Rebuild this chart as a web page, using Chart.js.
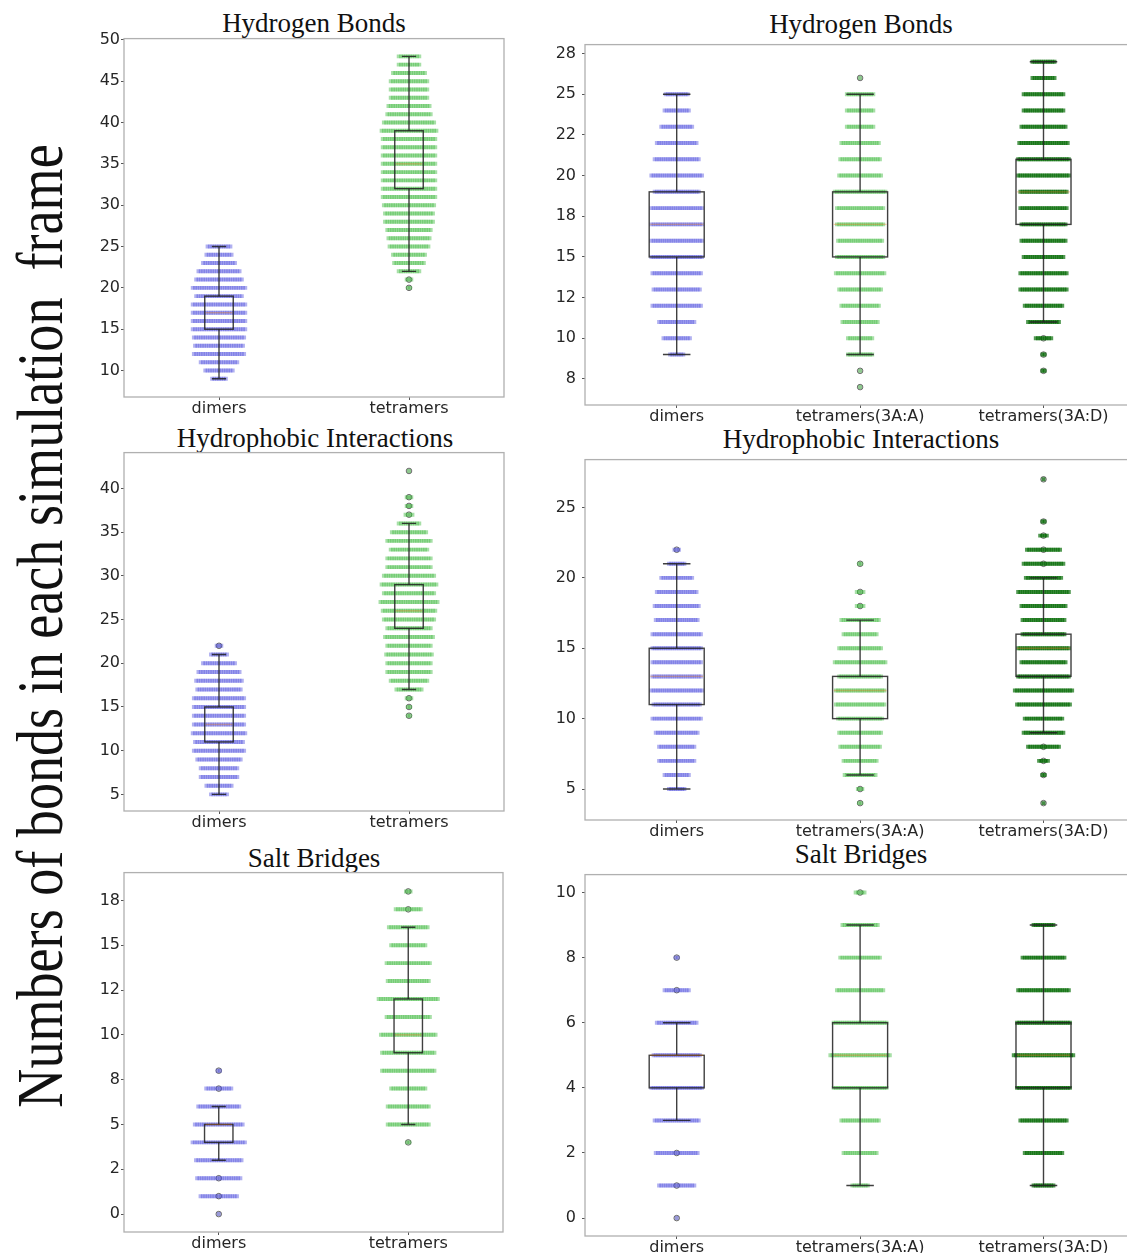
<!DOCTYPE html>
<html>
<head>
<meta charset="utf-8">
<script src="https://cdn.jsdelivr.net/npm/chart.js@4.4.1/dist/chart.umd.min.js"></script>
<style>
  body { margin: 0; width: 1127px; height: 1253px; overflow: hidden; background: #fff; position: relative; }
  canvas { position: absolute; }
  .ttl { position: absolute; font-family: "Liberation Serif", "Times New Roman", serif; font-size: 27px; line-height: 27px;
         color: #111; white-space: nowrap; transform: translateX(-50%); }
  #ylab { position: absolute; left: 40px; top: 626px; font-family: "Liberation Serif", "Times New Roman", serif;
          font-size: 66px; line-height: 66px; color: #111; white-space: pre;
          transform: translate(-50%, -50%) rotate(-90deg) scaleX(0.82); }
</style>
</head>
<body>
<div id="ylab">Numbers of bonds in each simulation  frame</div>

<div class="ttl" style="left:314px;top:10px">Hydrogen Bonds</div>
<div class="ttl" style="left:861px;top:11px">Hydrogen Bonds</div>
<div class="ttl" style="left:315px;top:425px">Hydrophobic Interactions</div>
<div class="ttl" style="left:861px;top:426px">Hydrophobic Interactions</div>
<div class="ttl" style="left:314px;top:845px">Salt Bridges</div>
<div class="ttl" style="left:861px;top:841px">Salt Bridges</div>

<canvas id="c1" width="450" height="409" style="left:64px;top:28px"></canvas>
<canvas id="c2" width="614" height="416" style="left:525px;top:29px"></canvas>
<canvas id="c3" width="450" height="409" style="left:64px;top:442px"></canvas>
<canvas id="c4" width="614" height="416" style="left:525px;top:444px"></canvas>
<canvas id="c5" width="449" height="410" style="left:64px;top:862px"></canvas>
<canvas id="c6" width="614" height="417" style="left:525px;top:859px"></canvas>

<script>
// categories
const catsLeft = ['dimers', 'tetramers'];
const catsRight = ['dimers', 'tetramers(3A:A)', 'tetramers(3A:D)'];

// frames per integer bond count (lowest value first), estimated from strip widths
// hydrogen bonds
const dimHbFrom = 9;
const dimHb = [7, 13, 17, 23, 22, 23, 24, 24, 24, 24, 21, 24, 21, 19, 15, 12, 11];
const tetHbFrom = 20;
const tetHb = [2, 3, 10, 14, 15, 18, 19, 20, 22, 22, 23, 24, 24, 24, 24, 24, 24, 24, 24, 25, 23, 20, 19, 17, 17, 17, 15, 10, 10];
const hbAFrom = 7;
const hbA = [1, 1, 12, 12, 17, 18, 20, 23, 22, 21, 22, 22, 24, 20, 19, 18, 13, 13, 13, 1];
const hbDFrom = 8;
const hbD = [2, 2, 8, 15, 18, 22, 22, 19, 21, 21, 22, 22, 24, 24, 23, 21, 19, 19, 11, 11];

// hydrophobic interactions
const dimHiFrom = 5;
const dimHi = [8, 12, 17, 17, 20, 23, 22, 24, 23, 23, 23, 23, 20, 21, 19, 15, 8, 3];
const tetHiFrom = 14;
const tetHi = [2, 2, 3, 12, 17, 20, 20, 21, 20, 22, 20, 23, 24, 26, 23, 25, 23, 20, 20, 17, 20, 16, 10, 4, 3, 3, 0, 0, 1];
const hiAFrom = 4;
const hiA = [2, 3, 15, 16, 19, 20, 21, 23, 23, 20, 24, 20, 16, 18, 4, 4, 0, 2];
const hiDFrom = 4;
const hiD = [1, 0, 2, 5, 15, 19, 18, 25, 27, 24, 21, 24, 20, 20, 21, 24, 17, 19, 16, 4, 2, 0, 0, 1];

// salt bridges
const dimSbFrom = 0;
const dimSb = [1, 17, 20, 21, 24, 22, 19, 12, 2];
const tetSbFrom = 4;
const tetSb = [2, 19, 19, 16, 24, 24, 25, 20, 27, 19, 20, 16, 18, 12, 3];
const sbAFrom = 1;
const sbA = [8, 16, 18, 25, 28, 25, 22, 19, 17, 5];
const sbDFrom = 1;
const sbD = [10, 18, 22, 25, 28, 25, 24, 20, 10];

// box statistics: lower whisker, Q1, median, Q3, upper whisker
const hbLeftLo = [9, 22], hbLeftQ1 = [15, 32], hbLeftMed = [17, 35], hbLeftQ3 = [19, 39], hbLeftHi = [25, 48];
const hbRightLo = [9, 9, 11], hbRightQ1 = [15, 15, 17], hbRightMed = [17, 17, 19], hbRightQ3 = [19, 19, 21], hbRightHi = [25, 25, 27];
const hiLeftLo = [5, 17], hiLeftQ1 = [11, 24], hiLeftMed = [13, 26], hiLeftQ3 = [15, 29], hiLeftHi = [21, 36];
const hiRightLo = [5, 6, 9], hiRightQ1 = [11, 10, 13], hiRightMed = [13, 12, 15], hiRightQ3 = [15, 13, 16], hiRightHi = [21, 17, 20];
const sbLeftLo = [3, 5], sbLeftQ1 = [4, 9], sbLeftMed = [5, 10], sbLeftQ3 = [5, 12], sbLeftHi = [6, 16];
const sbRightLo = [3, 1, 1], sbRightQ1 = [4, 4, 4], sbRightMed = [5, 5, 5], sbRightQ3 = [5, 6, 6], sbRightHi = [6, 9, 9];

// y tick values and their printed labels
const hbLeftTicks = [10, 15, 20, 25, 30, 35, 40, 45, 50];
const hbLeftLabels = ['10', '15', '20', '25', '30', '35', '40', '45', '50'];
const hbRightTicks = [7.5, 10, 12.5, 15, 17.5, 20, 22.5, 25, 27.5];
const hbRightLabels = ['8', '10', '12', '15', '18', '20', '22', '25', '28'];
const hiLeftTicks = [5, 10, 15, 20, 25, 30, 35, 40];
const hiLeftLabels = ['5', '10', '15', '20', '25', '30', '35', '40'];
const hiRightTicks = [5, 10, 15, 20, 25];
const hiRightLabels = ['5', '10', '15', '20', '25'];
const sbLeftTicks = [0, 2.5, 5, 7.5, 10, 12.5, 15, 17.5];
const sbLeftLabels = ['0', '2', '5', '8', '10', '12', '15', '18'];
const sbRightTicks = [0, 2, 4, 6, 8, 10];
const sbRightLabels = ['0', '2', '4', '6', '8', '10'];

const colDim = 'rgba(70, 70, 220, 0.42)';
const colTet = 'rgba(60, 185, 60, 0.45)';
const colDark = 'rgba(0, 105, 0, 0.68)';
const jitterStep = 0.012;

// spread the frames of each value side by side around the category
function stripPoints(idx, from, counts) {
    const pts = [];
    counts.forEach((n, k) => {
        for (let j = 0; j < n; j++) {
            pts.push({ x: idx + (j - (n - 1) / 2) * jitterStep, y: from + k });
        }
    });
    return pts;
}

function fliers(idx, from, counts, lo, hi) {
    const pts = [];
    counts.forEach((n, k) => {
        const v = from + k;
        if (n > 0 && (v < lo || v > hi)) pts.push({ x: idx, y: v });
    });
    return pts;
}

const boxPlugin = {
    id: 'boxes',
    afterDatasetsDraw(chart, args, o) {
        const { ctx } = chart;
        const x = chart.scales.x, y = chart.scales.y;
        ctx.save();
        o.q1.forEach((q1, i) => {
            const xl = x.getPixelForValue(i - o.width / 2);
            const xr = x.getPixelForValue(i + o.width / 2);
            const xc = x.getPixelForValue(i);
            const cl = x.getPixelForValue(i - o.width / 4);
            const cr = x.getPixelForValue(i + o.width / 4);
            const yLo = y.getPixelForValue(o.lo[i]), yHi = y.getPixelForValue(o.hi[i]);
            const yQ1 = y.getPixelForValue(q1), yQ3 = y.getPixelForValue(o.q3[i]);
            const yMed = y.getPixelForValue(o.med[i]);
            ctx.strokeStyle = 'rgba(30, 30, 30, 0.85)';
            ctx.lineWidth = 1.4;
            ctx.beginPath();
            ctx.moveTo(xc, yLo); ctx.lineTo(xc, yQ1);
            ctx.moveTo(xc, yQ3); ctx.lineTo(xc, yHi);
            ctx.moveTo(cl, yLo); ctx.lineTo(cr, yLo);
            ctx.moveTo(cl, yHi); ctx.lineTo(cr, yHi);
            ctx.stroke();
            ctx.strokeRect(xl, yQ3, xr - xl, yQ1 - yQ3);
            ctx.strokeStyle = 'rgba(235, 120, 20, 0.35)';
            ctx.beginPath();
            ctx.moveTo(xl + 1, yMed); ctx.lineTo(xr - 1, yMed);
            ctx.stroke();
        });
        ctx.restore();
    }
};

const framePlugin = {
    id: 'frame',
    afterDraw(chart) {
        const { ctx, chartArea: a } = chart;
        ctx.save();
        ctx.strokeStyle = '#b0b0b0';
        ctx.lineWidth = 1.3;
        ctx.strokeRect(a.left, a.top, a.right - a.left, a.bottom - a.top);
        ctx.restore();
    }
};

function makePanel(id, cats, groups, stats, yTicks, yLabels, yMin, yMax, boxWidth, yPad) {
    const datasets = [];
    groups.forEach((g, i) => {
        datasets.push({
            data: stripPoints(i, g.from, g.counts),
            backgroundColor: g.color, pointStyle: 'rect', pointRadius: 2.8, pointHoverRadius: 0, borderWidth: 0
        });
    });
    groups.forEach((g, i) => {
        datasets.push({
            data: fliers(i, g.from, g.counts, stats.lo[i], stats.hi[i]),
            backgroundColor: 'rgba(90, 90, 90, 0.25)', borderColor: 'rgba(60, 60, 60, 0.7)',
            pointRadius: 2.8, pointHoverRadius: 0, borderWidth: 1
        });
    });
    const tickFont = { family: '"DejaVu Sans", sans-serif', size: 16 };
    return new Chart(document.getElementById(id), {
        type: 'scatter',
        data: { datasets },
        options: {
            responsive: false,
            animation: false,
            devicePixelRatio: 1,
            layout: { padding: { top: 10, right: cats.length === 2 ? 10 : 0, left: 0, bottom: 0 } },
            plugins: {
                legend: { display: false },
                tooltip: { enabled: false },
                boxes: { lo: stats.lo, q1: stats.q1, med: stats.med, q3: stats.q3, hi: stats.hi, width: boxWidth }
            },
            scales: {
                x: {
                    type: 'linear', min: -0.5, max: cats.length - 0.5,
                    afterBuildTicks: s => { s.ticks = cats.map((c, i) => ({ value: i })); },
                    afterFit: s => { s.height = 40; },
                    ticks: { callback: v => cats[v], font: tickFont, color: '#262626', padding: -1, maxRotation: 0, autoSkip: false },
                    grid: { drawOnChartArea: false, tickLength: 3, color: '#555' },
                    border: { display: false }
                },
                y: {
                    min: yMin, max: yMax,
                    afterBuildTicks: s => { s.ticks = yTicks.map(v => ({ value: v })); },
                    afterFit: s => { s.width = 60; },
                    ticks: { callback: (v, i) => yLabels[i], font: tickFont, color: '#262626', padding: yPad, autoSkip: false },
                    grid: { drawOnChartArea: false, tickLength: 3, color: '#555' },
                    border: { display: false }
                }
            }
        },
        plugins: [boxPlugin, framePlugin]
    });
}

makePanel('c1', catsLeft,
    [{ from: dimHbFrom, counts: dimHb, color: colDim }, { from: tetHbFrom, counts: tetHb, color: colTet }],
    { lo: hbLeftLo, q1: hbLeftQ1, med: hbLeftMed, q3: hbLeftQ3, hi: hbLeftHi },
    hbLeftTicks, hbLeftLabels, 6.8, 50.15, 0.15, 1);

makePanel('c2', catsRight,
    [{ from: dimHbFrom, counts: dimHb, color: colDim }, { from: hbAFrom, counts: hbA, color: colTet }, { from: hbDFrom, counts: hbD, color: colDark }],
    { lo: hbRightLo, q1: hbRightQ1, med: hbRightMed, q3: hbRightQ3, hi: hbRightHi },
    hbRightTicks, hbRightLabels, 5.9, 28.05, 0.30, 6);

makePanel('c3', catsLeft,
    [{ from: dimHiFrom, counts: dimHi, color: colDim }, { from: tetHiFrom, counts: tetHi, color: colTet }],
    { lo: hiLeftLo, q1: hiLeftQ1, med: hiLeftMed, q3: hiLeftQ3, hi: hiLeftHi },
    hiLeftTicks, hiLeftLabels, 3.1, 44.1, 0.15, 1);

makePanel('c4', catsRight,
    [{ from: dimHiFrom, counts: dimHi, color: colDim }, { from: hiAFrom, counts: hiA, color: colTet }, { from: hiDFrom, counts: hiD, color: colDark }],
    { lo: hiRightLo, q1: hiRightQ1, med: hiRightMed, q3: hiRightQ3, hi: hiRightHi },
    hiRightTicks, hiRightLabels, 2.8, 28.4, 0.30, 6);

makePanel('c5', catsLeft,
    [{ from: dimSbFrom, counts: dimSb, color: colDim }, { from: tetSbFrom, counts: tetSb, color: colTet }],
    { lo: sbLeftLo, q1: sbLeftQ1, med: sbLeftMed, q3: sbLeftQ3, hi: sbLeftHi },
    sbLeftTicks, sbLeftLabels, -1, 19.05, 0.15, 1);

makePanel('c6', catsRight,
    [{ from: dimSbFrom, counts: dimSb, color: colDim }, { from: sbAFrom, counts: sbA, color: colTet }, { from: sbDFrom, counts: sbD, color: colDark }],
    { lo: sbRightLo, q1: sbRightQ1, med: sbRightMed, q3: sbRightQ3, hi: sbRightHi },
    sbRightTicks, sbRightLabels, -0.55, 10.55, 0.30, 6);
</script>
</body>
</html>
